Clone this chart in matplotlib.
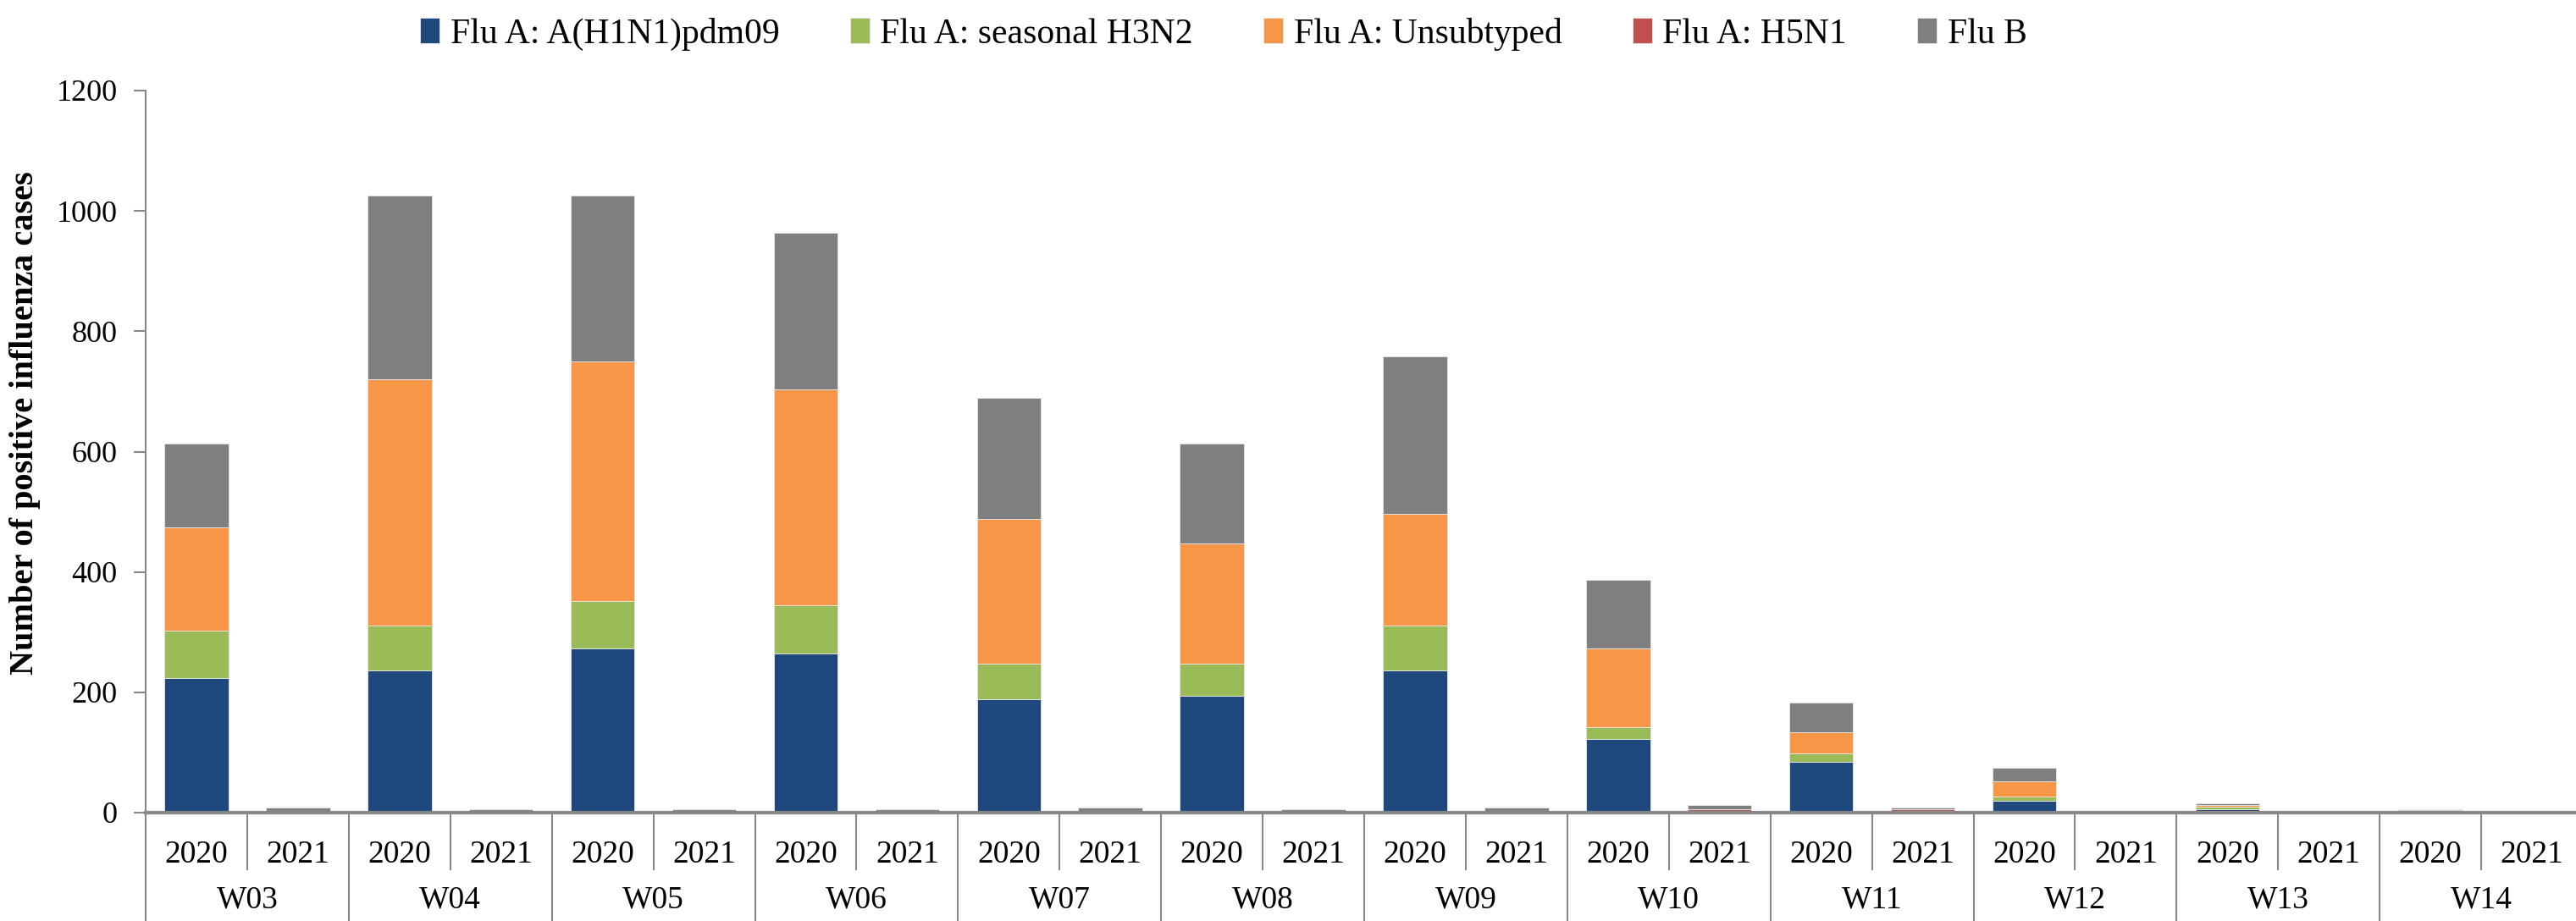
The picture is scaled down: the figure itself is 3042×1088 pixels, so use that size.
import matplotlib.pyplot as plt
import matplotlib.transforms as mtransforms
import numpy as np

plt.rcParams['font.family'] = ['Liberation Serif', 'DejaVu Serif']

weeks = ['W03', 'W04', 'W05', 'W06', 'W07', 'W08', 'W09', 'W10', 'W11', 'W12', 'W13', 'W14']
years = ['2020', '2021']

# values per (week, year), interleaved 2020 / 2021
h1n1 = [224, 0, 237, 0, 273, 0, 265, 0, 188, 0, 194, 0, 237, 0, 123, 0, 85, 0, 19, 0, 5, 0, 0, 0]
h3n2 = [79, 0, 74, 0, 79, 0, 79, 0, 60, 0, 54, 0, 74, 0, 19, 0, 13, 1, 8, 0, 5, 0, 4, 0]
unsub = [171, 1, 409, 1, 398, 1, 360, 1, 240, 2, 199, 1, 185, 1, 131, 1, 36, 2, 25, 0, 2, 0, 0, 0]
h5n1 = [0, 0, 0, 0, 0, 0, 0, 0, 0, 0, 0, 0, 0, 1, 0, 4, 0, 2, 0, 0, 0, 0, 0, 0]
flub = [140, 8, 305, 5, 275, 4, 259, 4, 202, 7, 167, 5, 262, 6, 114, 7, 49, 4, 22, 0, 4, 3, 2, 3]

series = [
    ('Flu A: A(H1N1)pdm09', h1n1, '#1F497D'),
    ('Flu A: seasonal H3N2', h3n2, '#9BBB59'),
    ('Flu A: Unsubtyped', unsub, '#F79646'),
    ('Flu A: H5N1', h5n1, '#C0504D'),
    ('Flu B', flub, '#7F7F7F'),
]

fig = plt.figure(figsize=(30.42, 10.88), dpi=100)
# plot area runs past the right edge, as in the original
ax = fig.add_axes([172 / 3042, 1 - 960 / 1088, 2878 / 3042, 853 / 1088])

x = np.arange(len(h1n1))
bottom = np.zeros(len(x))
handles = []
for label, vals, color in series:
    vals = np.array(vals, dtype=float)
    b = ax.bar(x, vals, 0.63, bottom=bottom, color=color, label=label,
               edgecolor='#e8e8e8', linewidth=0.6)
    handles.append(b)
    bottom += vals

ax.set_xlim(-0.5, len(x) - 0.5)
ax.set_ylim(0, 1200)
ax.set_yticks(np.arange(0, 1201, 200))
ax.tick_params(axis='y', labelsize=26, length=10, width=1.5, color='#888888', pad=14)
ax.set_xticks([])
ax.set_ylabel('Number of positive influenza cases', fontsize=29, fontweight='bold')
ax.yaxis.set_label_coords(-0.043, 0.54)

for side in ['top', 'right']:
    ax.spines[side].set_visible(False)
ax.spines['left'].set_color('#888888')
ax.spines['left'].set_linewidth(1.5)
ax.spines['bottom'].set_color('#888888')
ax.spines['bottom'].set_linewidth(3)

# two-level category axis
trans = mtransforms.blended_transform_factory(ax.transData, ax.transAxes)
for i in x:
    ax.text(i, -0.0586, years[i % 2], transform=trans, ha='center', va='center', fontsize=27)
for j, w in enumerate(weeks):
    ax.text(2 * j + 0.5, -0.121, w, transform=trans, ha='center', va='center', fontsize=27)
for i in x:
    if i % 2 == 1:
        ax.plot([i - 0.5, i - 0.5], [0, -0.0785], transform=trans, color='#888888',
                lw=1.5, clip_on=False)
for j in range(len(weeks) + 1):
    ax.plot([2 * j - 0.5, 2 * j - 0.5], [0, -0.16], transform=trans, color='#888888',
            lw=1.5, clip_on=False)

fig.legend(handles=handles, loc='center', bbox_to_anchor=(0.475, 0.963), ncol=5,
           fontsize=30, frameon=False, handlelength=0.55, handleheight=0.75,
           handletextpad=0.3, columnspacing=2.0)

fig.savefig('out.png', dpi=100)
